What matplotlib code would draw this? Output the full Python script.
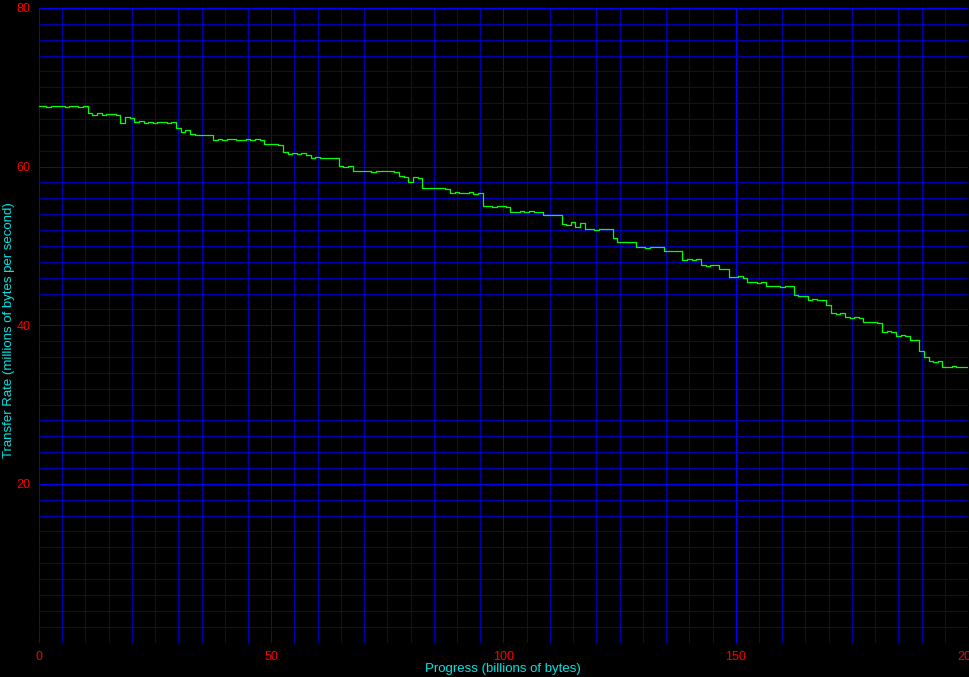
import matplotlib
matplotlib.use("Agg")
import matplotlib.pyplot as plt
import numpy as np

# Progress (billions of bytes) sample positions
progress = list(range(0, 201))

# Transfer rate (millions of bytes per second)
rate = [
    67.60, 67.70, 67.55, 67.65, 67.60, 67.70, 67.50, 67.65, 67.60, 67.55,
    67.60, 66.70, 66.55, 66.70, 66.50, 66.65, 66.60, 66.45, 65.50, 66.25,
    66.15, 65.60, 65.70, 65.55, 65.65, 65.50, 65.65, 65.60, 65.55, 65.65,
    64.90, 64.40, 64.60, 64.10, 63.95, 64.05, 64.00, 63.95, 63.40, 63.45,
    63.35, 63.45, 63.50, 63.40, 63.35, 63.45, 63.40, 63.50, 63.40, 62.85,
    62.80, 62.85, 62.75, 61.80, 61.65, 61.75, 61.60, 61.70, 61.50, 61.15,
    61.20, 61.10, 61.15, 61.05, 61.15, 60.10, 59.95, 60.05, 59.45, 59.50,
    59.40, 59.50, 59.35, 59.45, 59.40, 59.50, 59.45, 59.35, 58.85, 58.70,
    58.00, 58.75, 58.60, 57.30, 57.35, 57.25, 57.35, 57.30, 57.20, 56.70,
    56.75, 56.65, 56.70, 56.75, 56.55, 56.70, 55.00, 55.05, 54.95, 55.00,
    55.05, 54.95, 54.30, 54.25, 54.35, 54.30, 54.40, 54.30, 54.25, 53.90,
    53.85, 53.95, 53.85, 52.80, 52.60, 53.00, 52.45, 52.90, 52.10, 52.15,
    52.05, 52.15, 52.10, 52.15, 51.00, 50.50, 50.55, 50.45, 50.50, 49.85,
    49.90, 49.80, 49.85, 49.90, 49.85, 49.35, 49.40, 49.30, 49.35, 48.25,
    48.30, 48.20, 48.30, 47.60, 47.50, 47.65, 47.60, 47.10, 47.10, 46.10,
    46.05, 46.15, 46.00, 45.40, 45.45, 45.35, 45.40, 44.95, 44.90, 44.95,
    44.85, 44.90, 44.95, 43.80, 43.70, 43.75, 43.20, 43.25, 43.15, 43.20,
    42.50, 41.55, 41.45, 41.50, 41.00, 40.95, 41.05, 40.90, 40.35, 40.40,
    40.35, 40.30, 39.20, 39.25, 39.15, 38.70, 38.75, 38.65, 38.15, 38.10,
    36.80, 35.95, 35.45, 35.40, 35.50, 34.75, 34.70, 34.80, 34.70, 34.75,
    34.70,
]

x_ticks = [0, 50, 100, 150, 200]
x_tick_labels = ["0", "50", "100", "150", "200"]
y_ticks = [20, 40, 60, 80]
y_tick_labels = ["20", "40", "60", "80"]

plt.rcParams['font.family'] = ['Liberation Sans', 'DejaVu Sans']

fig = plt.figure(figsize=(9.70, 6.77), dpi=100, facecolor='black')
ax = fig.add_axes([39 / 970, 1 - 642.5 / 677, (968 - 39) / 970, (642.5 - 8) / 677])
ax.set_facecolor('black')

ax.set_xlim(0, 200)
ax.set_ylim(0, 80)

# grid
for xv in np.arange(0, 201, 5):
    bright = (xv % 50 == 0)
    ax.axvline(xv, color='#0000FF' if bright else '#0000B0', lw=0.72,
               antialiased=False, snap=True, zorder=1)
for yv in np.arange(0, 81, 2):
    bright = (yv % 20 == 0)
    ax.axhline(yv, color='#0000FF' if bright else '#0000B0', lw=0.72,
               antialiased=False, snap=True, zorder=1)

ax.plot(progress, rate, color='#00FF00', lw=0.9, drawstyle='steps-mid', zorder=3)

for s in ax.spines.values():
    s.set_visible(False)

ax.set_xticks(x_ticks)
ax.set_xticklabels(x_tick_labels)
ax.set_yticks(y_ticks)
ax.set_yticklabels(y_tick_labels)
ax.tick_params(axis='both', length=0, colors='#FF0000', labelsize=9)
ax.tick_params(axis='x', pad=6)
ax.tick_params(axis='y', pad=6)

fig.text(503 / 970, 1 - 669 / 677, "Progress (billions of bytes)", color='#00E5E5',
         fontsize=9.5, ha='center', va='center')
fig.text(9 / 970, 1 - 330 / 677, "Transfer Rate (millions of bytes per second)", color='#00E5E5',
         fontsize=9.5, ha='center', va='center', rotation=90)

fig.savefig("out.png", dpi=100, facecolor='black')
